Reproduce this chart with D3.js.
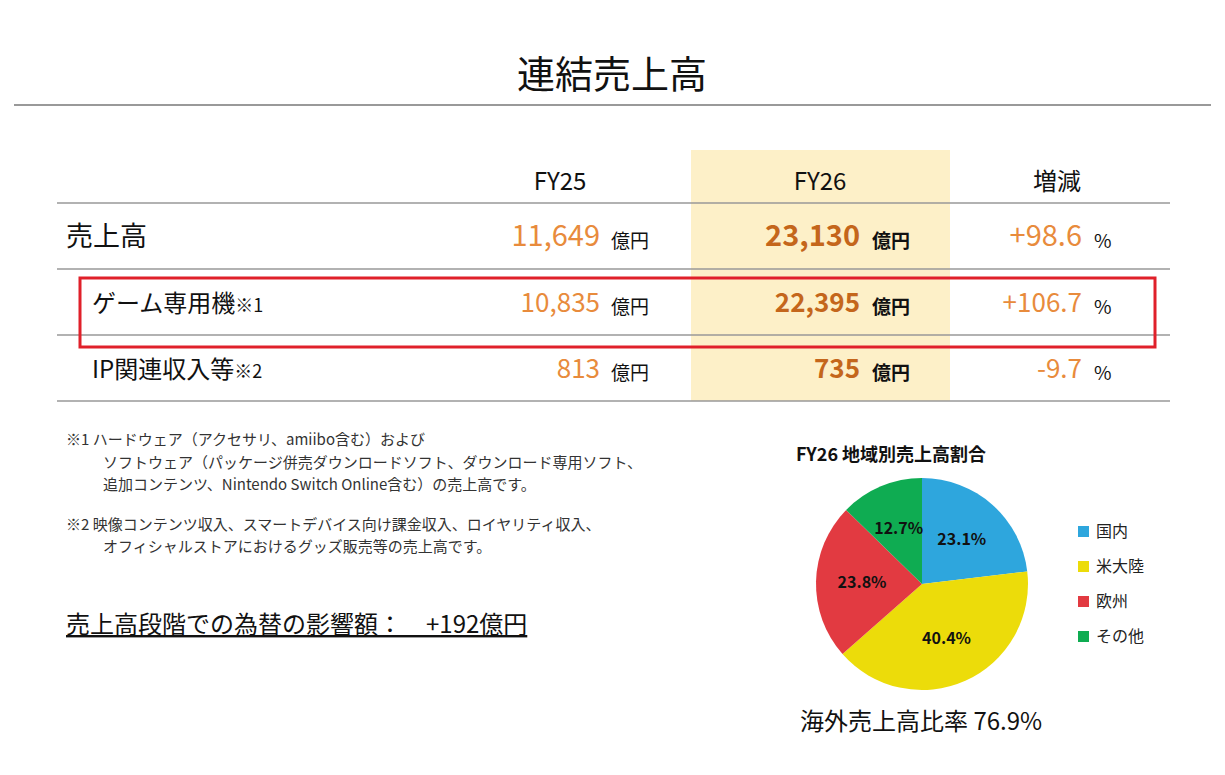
<!DOCTYPE html>
<html><head><meta charset="utf-8">
<script src="https://cdn.jsdelivr.net/npm/d3@7"></script>
<style>body{margin:0;background:#fff}svg{font-family:"Noto Sans CJK JP","Noto Sans",sans-serif}</style>
</head><body><svg id="c" width="1225" height="775"></svg>
<script>
var columns = ["FY25", "FY26", "増減"];
var rowNames = ["売上高", "ゲーム専用機", "IP関連収入等"];
var rowNotes = ["", "※1", "※2"];
var fy25 = [11649, 10835, 813];
var fy26 = [23130, 22395, 735];
var change = [98.6, 106.7, -9.7];
var regions = ["国内", "米大陸", "欧州", "その他"];
var shares = [23.1, 40.4, 23.8, 12.7];
var regionColors = ["#2ea6dd", "#ecdc0a", "#e23a41", "#0fac52"];

var svg = d3.select("#c");
var orange = "#e88b3c", dark = "#c4661b";

svg.append("text").attr("x", 612).attr("y", 88).attr("text-anchor", "middle")
  .style("font-size", "38px").attr("fill", "#111").text("連結売上高");
svg.append("line").attr("x1", 14).attr("x2", 1211).attr("y1", 105).attr("y2", 105)
  .attr("stroke", "#777").attr("stroke-width", 1.5);

// highlight band for FY26
svg.append("rect").attr("x", 691).attr("y", 150).attr("width", 259).attr("height", 251).attr("fill", "#fdf0c8");

var colX = d3.scalePoint().domain(columns).range([560, 1057]);
svg.selectAll(".hdr").data(columns).enter().append("text")
  .attr("x", function(d, i) { return i == 1 ? 820 : colX(d); }).attr("y", 190).attr("text-anchor", "middle")
  .style("font-size", "24px").attr("fill", "#111").text(function(d) { return d; });

var rowY = d3.scaleBand().domain(rowNames).range([203, 401]);
[203, 269, 335, 401].forEach(function(y) {
  svg.append("line").attr("x1", 57).attr("x2", 1170).attr("y1", y).attr("y2", y).attr("stroke", "#999").attr("stroke-width", 1.5);
});

var fmt = d3.format(",");
rowNames.forEach(function(r, i) {
  var y = rowY(r) + rowY.bandwidth() / 2 + 10;
  var lbl = svg.append("text").attr("x", i == 0 ? 66 : 92).attr("y", y).style("font-size", i == 0 ? "27px" : "24px").attr("fill", "#111");
  lbl.append("tspan").text(r);
  if (rowNotes[i]) lbl.append("tspan").style("font-size", "18px").text(rowNotes[i]);
  var fs = i == 0 ? "29px" : "26px";
  svg.append("text").attr("x", 600).attr("y", y).attr("text-anchor", "end").style("font-size", fs).attr("fill", orange).text(fmt(fy25[i]));
  svg.append("text").attr("x", 611).attr("y", y + 2).style("font-size", "19px").attr("fill", "#111").text("億円");
  svg.append("text").attr("x", 860).attr("y", y).attr("text-anchor", "end").style("font-size", fs).style("font-weight", "bold").attr("fill", dark).text(fmt(fy26[i]));
  svg.append("text").attr("x", 872).attr("y", y + 2).style("font-size", "19px").style("font-weight", "bold").attr("fill", "#111").text("億円");
  svg.append("text").attr("x", 1082).attr("y", y).attr("text-anchor", "end").style("font-size", fs).attr("fill", orange).text((change[i] > 0 ? "+" : "") + change[i].toFixed(1));
  svg.append("text").attr("x", 1094).attr("y", y + 2).style("font-size", "19px").attr("fill", "#111").text("%");
});
svg.append("rect").attr("x", 80).attr("y", 278).attr("width", 1075).attr("height", 69)
  .attr("fill", "none").attr("stroke", "#e0202a").attr("stroke-width", 3);

// notes
var notes = [
  [66, 445, "※1 ハードウェア（アクセサリ、amiibo含む）および"],
  [103, 468, "ソフトウェア（パッケージ併売ダウンロードソフト、ダウンロード専用ソフト、"],
  [103, 490, "追加コンテンツ、Nintendo Switch Online含む）の売上高です。"],
  [66, 530, "※2 映像コンテンツ収入、スマートデバイス向け課金収入、ロイヤリティ収入、"],
  [103, 552, "オフィシャルストアにおけるグッズ販売等の売上高です。"]
];
svg.selectAll(".note").data(notes).enter().append("text")
  .attr("x", function(d) { return d[0]; }).attr("y", function(d) { return d[1]; })
  .style("font-size", "15px").attr("fill", "#333").text(function(d) { return d[2]; });
svg.append("text").attr("x", 66).attr("y", 633).style("font-size", "24px").attr("fill", "#111")
  .style("text-decoration", "underline").text("売上高段階での為替の影響額：　+192億円");

// pie
svg.append("text").attr("x", 796).attr("y", 461).style("font-size", "18px").style("font-weight", "bold").attr("fill", "#111").text("FY26 地域別売上高割合");
var pie = d3.pie().sort(null).value(function(d) { return d; });
var arc = d3.arc().innerRadius(0).outerRadius(106);
var lab = d3.arc().innerRadius(60).outerRadius(60);
var g = svg.append("g").attr("transform", "translate(922,584)");
var arcs = pie(shares);
g.selectAll("path").data(arcs).enter().append("path").attr("d", arc)
  .attr("fill", function(d, i) { return regionColors[i]; });
g.selectAll("text").data(arcs).enter().append("text")
  .attr("transform", function(d) { var c = lab.centroid(d); return "translate(" + c + ")"; })
  .attr("text-anchor", "middle").attr("dy", "0.35em").style("font-size", "16px").style("font-weight", "bold").attr("fill", "#111")
  .text(function(d) { return d.data.toFixed(1) + "%"; });

var leg = svg.selectAll(".leg").data(regions).enter().append("g")
  .attr("transform", function(d, i) { return "translate(1078," + (526 + i * 35) + ")"; });
leg.append("rect").attr("width", 11).attr("height", 11).attr("fill", function(d, i) { return regionColors[i]; });
leg.append("text").attr("x", 18).attr("y", 11).style("font-size", "16px").attr("fill", "#222").text(function(d) { return d; });

svg.append("text").attr("x", 800).attr("y", 730).style("font-size", "24px").attr("fill", "#111").text("海外売上高比率 76.9%");
</script></body></html>
